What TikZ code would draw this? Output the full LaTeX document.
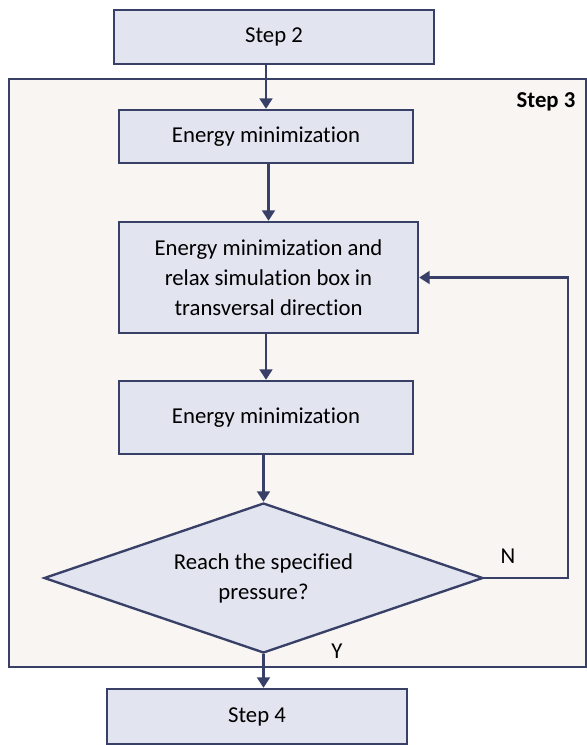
\documentclass[tikz,border=0pt]{standalone}
\usepackage{fontspec}
\setmainfont[Ligatures=NoCommon]{Carlito}
\usetikzlibrary{shapes.geometric,arrows.meta}

\definecolor{navy}{RGB}{57,64,104}
\definecolor{boxfill}{RGB}{226,228,240}
\definecolor{framefill}{RGB}{248,245,243}

\tikzset{
  stepbox/.style={draw=navy, fill=boxfill, line width=2pt, inner sep=0pt, align=center,
    font=\fontsize{19.4}{25.5}\selectfont},
  decbox/.style={diamond, draw=navy, fill=boxfill, line width=2pt, inner sep=0pt, align=center,
    aspect=2.93, font=\fontsize{19.4}{25.5}\selectfont},
  arr/.style={draw=navy, line width=2pt, -{Triangle[length=9pt,width=11pt]}},
  lbl/.style={font=\fontsize{19.4}{22}\selectfont, inner sep=0pt}
}

\begin{document}
\begin{tikzpicture}[x=0.03cm, y=-0.03cm]
  \useasboundingbox (0,0) rectangle (587,745);
  % frame of step 3
  \draw[draw=navy, fill=framefill, line width=2pt] (9,79) rectangle (586,667);
  \node[font=\fontsize{19.4}{22}\selectfont\bfseries, inner sep=0pt] (step3) at (546,102) {Step 3};

  \node[stepbox, minimum width=320*0.03cm, minimum height=54*0.03cm] (step2) at (274,37) {Step 2};
  \node[stepbox, minimum width=294*0.03cm, minimum height=53*0.03cm] (emin1) at (266,136.5) {Energy minimization};
  \node[stepbox, minimum width=299*0.03cm, minimum height=111*0.03cm] (relax) at (268.5,277.5)
    {Energy minimization and\\relax simulation box in\\transversal direction};
  \node[stepbox, minimum width=294*0.03cm, minimum height=73*0.03cm] (emin2) at (266,417.5) {Energy minimization};
  \node[decbox, minimum width=439*0.03cm, minimum height=150*0.03cm] (check) at (263.5,578)
    {Reach the specified\\pressure?};
  \node[stepbox, minimum width=300*0.03cm, minimum height=55*0.03cm] (step4) at (257,716.5) {Step 4};

  % connectors
  \draw[arr] (step2.south -| emin1.north) -- (emin1.north);
  \draw[arr] (emin1.south -| relax.north) -- (relax.north);
  \draw[arr] (relax.south -| emin2.north) -- (emin2.north);
  \draw[arr] (emin2.south -| check.north) -- (check.north);
  \draw[arr] (check.south) -- (step4.north -| check.south);
  \draw[arr] (check.east) -- ++(84,0) coordinate (loop) |- (relax.east);

  \node[lbl] (no) at (508,556) {N};
  \node[lbl] (yes) at (337,651) {Y};
\end{tikzpicture}
\end{document}
